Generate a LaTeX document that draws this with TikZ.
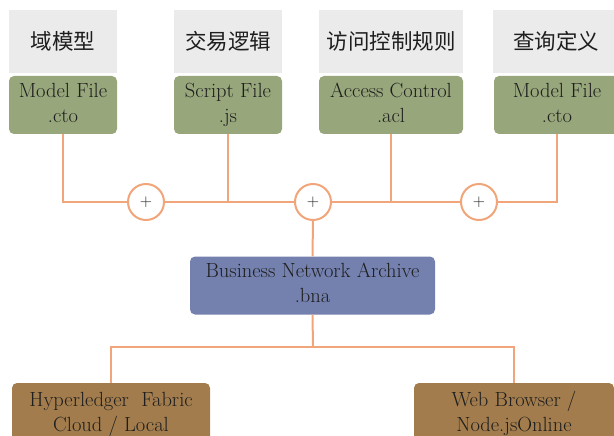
\documentclass[tikz,border=0pt]{standalone}
\usepackage{fontspec}
\newfontfamily\cjk{Noto Sans CJK SC}
\definecolor{headgray}{HTML}{EBEBEB}
\definecolor{filegreen}{HTML}{97A67B}
\definecolor{bnablue}{HTML}{7480AE}
\definecolor{hostbrown}{HTML}{A27C4C}
\definecolor{linkorange}{HTML}{F0A67A}
\definecolor{textdark}{HTML}{1E1E1E}

\begin{document}
\begin{tikzpicture}[x=1pt,y=-1pt,
    every node/.style={inner sep=0pt,align=center,text=textdark,font=\fontsize{20.5}{25}\selectfont},
    head/.style={fill=headgray,minimum height=63pt,font=\cjk\fontsize{21.5}{24}\selectfont},
    filebox/.style={fill=filegreen,rounded corners=5pt,minimum height=58pt,
        execute at begin node=\rule{0pt}{23.5pt},execute at end node=\rule[-5pt]{0pt}{5pt}},
    plus/.style={circle,draw=linkorange,line width=2pt,fill=white,minimum size=36pt,font=\fontsize{17}{17}\selectfont},
    link/.style={draw=linkorange,line width=2pt}]
    \useasboundingbox (0,0) rectangle (614,436);
    \clip (0,0) rectangle (614,436);

    \node[head,minimum width=108pt] at (63,41.5)  (h1) {域模型};
    \node[head,minimum width=108pt] at (228,41.5) (h2) {交易逻辑};
    \node[head,minimum width=144pt] at (391,41.5) (h3) {访问控制规则};
    \node[head,minimum width=126pt] at (556,41.5) (h4) {查询定义};

    \node[filebox,minimum width=108pt] at (63,105)  (m1) {Model File\\.cto};
    \node[filebox,minimum width=108pt] at (228,105) (m2) {Script File\\.js};
    \node[filebox,minimum width=144pt] at (391,105) (m3) {Access Control\\.acl};
    \node[filebox,minimum width=126pt] at (557,105) (m4) {Model File\\.cto};

    \node[plus] at (146,202) (p1) {+};
    \node[plus] at (313,202) (p2) {+};
    \node[plus] at (479,202) (p3) {+};

    \node[filebox,fill=bnablue,minimum width=245pt] at (312.5,285.5) (bna) {Business Network Archive\\.bna};

    \node[filebox,fill=hostbrown,minimum width=198pt,minimum height=62pt] at (111,414) (host) {Hyperledger~~Fabric\\Cloud / Local};
    \node[filebox,fill=hostbrown,minimum width=200pt,minimum height=62pt] at (514,414) (web) {Web Browser /\\Node.jsOnline};

    \coordinate (split) at (313,347);

    \draw[link] (m1.south) |- (p1.west);
    \draw[link] (p1.east) -- (p2.west);
    \draw[link] (p2.east) -- (p3.west);
    \draw[link] (p3.east) -| (m4.south);
    \draw[link] (m2.south) -- (m2.south |- p1.east);
    \draw[link] (m3.south) -- (m3.south |- p3.west);
    \draw[link] (p2.south) -- (bna.north);
    \draw[link] (bna.south) -- (split);
    \draw[link] (host.north) |- (split) -| (web.north);
\end{tikzpicture}
\end{document}
